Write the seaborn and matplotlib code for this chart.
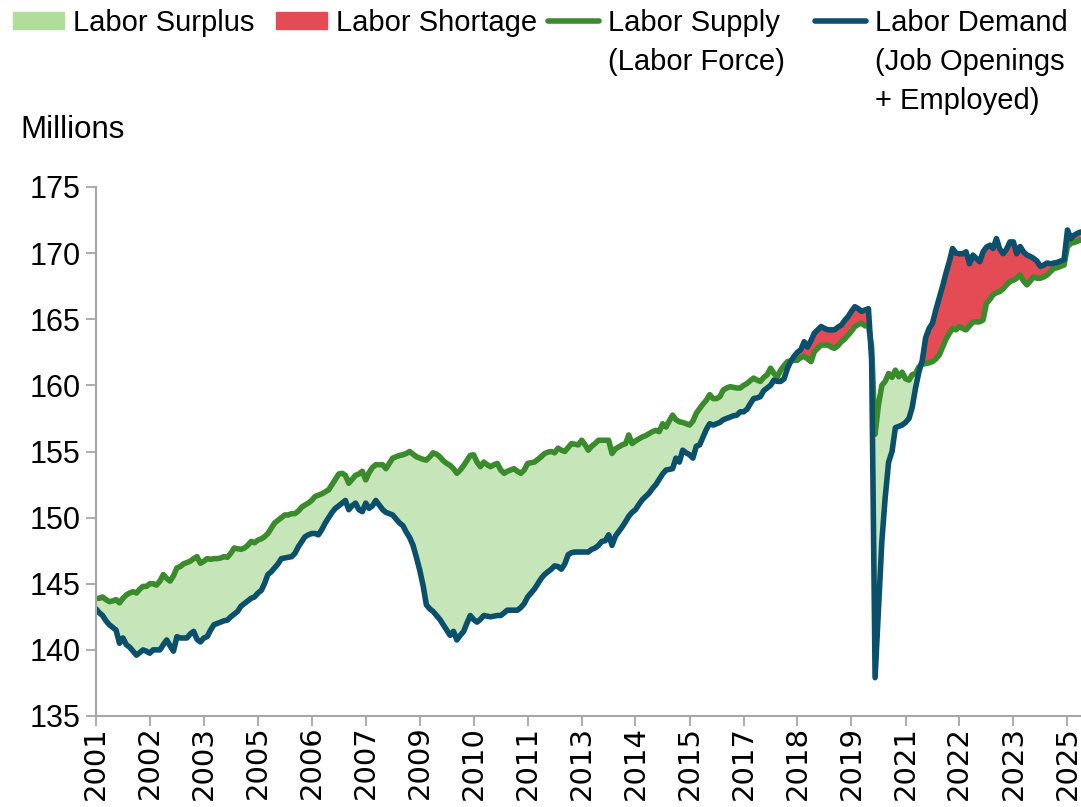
import numpy as np
import pandas as pd
import matplotlib
matplotlib.use("Agg")
import matplotlib.pyplot as plt
import seaborn as sb
from matplotlib.patches import Patch
from matplotlib.lines import Line2D

# labor supply (labor force), millions, monthly from Jan 2001
s2001 = [143.9, 143.9, 144.0, 143.8, 143.65, 143.7, 143.8, 143.55, 143.9, 144.15, 144.3, 144.4]
s2002 = [144.3, 144.6, 144.8, 144.8, 145.0, 145.0, 144.9, 145.2, 145.7, 145.4, 145.2, 145.6]
s2003 = [146.2, 146.3, 146.5, 146.6, 146.7, 146.9, 147.05, 146.55, 146.7, 146.9, 146.85, 146.9]
s2004 = [146.9, 146.95, 147.05, 147.0, 147.3, 147.7, 147.65, 147.6, 147.7, 147.9, 148.2, 148.1]
s2005 = [148.3, 148.4, 148.55, 148.8, 149.2, 149.6, 149.8, 150.0, 150.2, 150.2, 150.3, 150.3]
s2006 = [150.5, 150.8, 150.95, 151.1, 151.3, 151.6, 151.7, 151.8, 151.95, 152.1, 152.5, 152.9]
s2007 = [153.3, 153.35, 153.2, 152.6, 152.9, 153.2, 153.3, 153.5, 152.85, 153.4, 153.8, 154.0]
s2008 = [154.0, 154.0, 153.7, 154.1, 154.5, 154.6, 154.7, 154.75, 154.85, 155.0, 154.8, 154.6]
s2009 = [154.5, 154.4, 154.35, 154.6, 154.9, 154.8, 154.6, 154.3, 154.1, 153.95, 153.7, 153.35]
s2010 = [153.6, 153.95, 154.3, 154.7, 154.75, 154.2, 153.85, 154.2, 154.0, 153.85, 154.0, 154.1]
s2011 = [153.6, 153.35, 153.5, 153.6, 153.7, 153.5, 153.35, 153.6, 154.1, 154.15, 154.2, 154.4]
s2012 = [154.6, 154.85, 154.95, 155.0, 154.9, 155.25, 155.1, 155.0, 155.3, 155.6, 155.55, 155.5]
s2013 = [155.85, 155.5, 155.1, 155.4, 155.6, 155.85, 155.85, 155.85, 155.85, 154.85, 155.2, 155.35]
s2014 = [155.5, 155.6, 156.25, 155.6, 155.8, 155.95, 156.1, 156.2, 156.35, 156.5, 156.6, 156.5]
s2015 = [157.1, 156.85, 157.3, 157.75, 157.4, 157.25, 157.2, 157.1, 157.0, 157.3, 157.9, 158.25]
s2016 = [158.6, 158.9, 159.3, 159.0, 159.0, 159.15, 159.65, 159.8, 159.9, 159.85, 159.8, 159.8]
s2017 = [160.0, 160.15, 160.35, 160.55, 160.4, 160.3, 160.6, 160.8, 161.3, 160.9, 160.65, 161.15]
s2018 = [161.5, 161.8, 161.85, 161.9, 161.9, 162.1, 162.2, 162.0, 161.8, 162.55, 162.8, 163.05]
s2019 = [163.05, 163.05, 162.9, 162.8, 163.0, 163.3, 163.5, 163.8, 164.1, 164.45, 164.6, 164.7]
s2020 = [164.5, 164.55, 162.9, 156.3, 158.5, 160.0, 160.3, 160.9, 160.6, 161.15, 160.65, 161.0]
s2021 = [160.5, 160.4, 160.8, 160.9, 161.4, 161.6, 161.65, 161.7, 161.8, 162.0, 162.3, 162.9]
s2022 = [163.5, 163.95, 164.3, 164.2, 164.45, 164.3, 164.2, 164.5, 164.8, 164.8, 164.8, 164.95]
s2023 = [166.2, 166.5, 166.85, 167.0, 167.1, 167.3, 167.6, 167.85, 167.95, 168.1, 168.35, 167.9]
s2024 = [167.6, 167.9, 168.2, 168.1, 168.1, 168.2, 168.35, 168.6, 168.85, 168.9, 169.0, 169.1]
s2025 = [170.5, 170.75, 170.8, 170.9, 171.0]

# labor demand (job openings + employed), millions
d2001 = [143.1, 142.8, 142.6, 142.2, 141.9, 141.7, 141.5, 140.5, 140.9, 140.4, 140.2, 139.9]
d2002 = [139.6, 139.8, 140.0, 139.9, 139.75, 140.0, 140.0, 140.0, 140.4, 140.75, 140.3, 139.9]
d2003 = [141.0, 140.9, 140.9, 140.9, 141.2, 141.4, 140.8, 140.6, 140.9, 141.0, 141.5, 141.9]
d2004 = [142.0, 142.1, 142.2, 142.25, 142.5, 142.7, 142.9, 143.3, 143.5, 143.7, 143.9, 144.0]
d2005 = [144.3, 144.5, 145.0, 145.7, 145.9, 146.2, 146.5, 146.9, 146.95, 147.0, 147.05, 147.3]
d2006 = [147.8, 148.2, 148.55, 148.7, 148.8, 148.8, 148.7, 149.1, 149.6, 150.0, 150.4, 150.7]
d2007 = [150.9, 151.1, 151.3, 150.6, 150.9, 151.1, 150.6, 150.45, 151.1, 150.7, 150.9, 151.3]
d2008 = [150.95, 150.6, 150.4, 150.3, 150.2, 149.9, 149.6, 149.4, 148.9, 148.5, 147.9, 147.0]
d2009 = [146.0, 144.8, 143.4, 143.1, 142.9, 142.6, 142.3, 141.9, 141.5, 141.1, 141.4, 140.75]
d2010 = [141.1, 141.4, 142.0, 142.6, 142.3, 142.1, 142.3, 142.6, 142.55, 142.5, 142.55, 142.6]
d2011 = [142.6, 142.8, 143.0, 143.0, 143.0, 143.0, 143.2, 143.5, 144.0, 144.3, 144.6, 145.0]
d2012 = [145.4, 145.7, 145.9, 146.1, 146.35, 146.3, 146.1, 146.5, 147.2, 147.35, 147.4, 147.4]
d2013 = [147.4, 147.4, 147.4, 147.6, 147.7, 147.9, 148.2, 148.25, 148.7, 147.9, 148.6, 148.95]
d2014 = [149.3, 149.7, 150.1, 150.4, 150.6, 151.0, 151.35, 151.6, 151.85, 152.2, 152.5, 152.9]
d2015 = [153.3, 153.6, 153.65, 153.7, 154.5, 154.2, 155.1, 154.9, 154.75, 154.5, 155.4, 155.5]
d2016 = [156.1, 156.7, 157.1, 157.0, 157.1, 157.2, 157.4, 157.5, 157.6, 157.7, 157.75, 158.0]
d2017 = [158.0, 158.2, 158.6, 159.0, 159.05, 159.15, 159.6, 159.8, 160.0, 160.4, 160.3, 160.3]
d2018 = [160.5, 161.3, 161.8, 162.2, 162.5, 162.7, 163.3, 162.9, 163.4, 163.95, 164.2, 164.45]
d2019 = [164.3, 164.2, 164.2, 164.2, 164.4, 164.55, 164.9, 165.2, 165.6, 165.95, 165.8, 165.6]
d2020 = [165.7, 165.8, 161.9, 137.9, 143.0, 148.2, 151.5, 154.2, 155.0, 156.8, 156.9, 157.0]
d2021 = [157.2, 157.5, 158.3, 159.8, 161.0, 161.9, 163.6, 164.3, 164.7, 165.7, 166.6, 167.5]
d2022 = [168.5, 169.4, 170.35, 170.0, 169.95, 169.95, 170.1, 169.2, 169.85, 169.6, 169.35, 170.1]
d2023 = [170.45, 170.6, 170.35, 171.1, 170.3, 169.95, 170.3, 170.85, 170.85, 169.95, 170.5, 170.1]
d2024 = [169.85, 169.75, 169.6, 169.4, 169.0, 169.1, 169.25, 169.2, 169.25, 169.3, 169.4, 169.5]
d2025 = [171.75, 171.1, 171.35, 171.5, 171.6]

supply = np.concatenate([s2001, s2002, s2003, s2004, s2005, s2006, s2007, s2008, s2009,
                         s2010, s2011, s2012, s2013, s2014, s2015, s2016, s2017, s2018,
                         s2019, s2020, s2021, s2022, s2023, s2024, s2025])
demand = np.concatenate([d2001, d2002, d2003, d2004, d2005, d2006, d2007, d2008, d2009,
                         d2010, d2011, d2012, d2013, d2014, d2015, d2016, d2017, d2018,
                         d2019, d2020, d2021, d2022, d2023, d2024, d2025])
dates = pd.date_range("2001-01-01", periods=len(supply), freq="MS")

# ticks every 16 months, labelled by year
tick_dates = pd.date_range("2001-01-01", periods=19, freq="16MS")

legend_labels = ["Labor Surplus", "Labor Shortage", "Labor Supply\n(Labor Force)",
                 "Labor Demand\n(Job Openings\n+ Employed)"]

c_supply = "#3a8b2b"
c_demand = "#0a4f6b"
c_surplus = "#c6e6b9"
c_short = "#e54b54"

sb.set_style("ticks")
plt.rcParams["font.family"] = ["Liberation Sans", "DejaVu Sans"]
plt.rcParams["text.color"] = "black"

W, H = 1081, 807
fig = plt.figure(figsize=(W / 100, H / 100), dpi=100)
ax = fig.add_axes([96 / W, 91 / H, 1 - 96 / W, 529 / H])

ax.fill_between(dates, supply, demand, where=supply >= demand, interpolate=True,
                color=c_surplus, lw=0)
ax.fill_between(dates, supply, demand, where=demand >= supply, interpolate=True,
                color=c_short, lw=0)

df = pd.DataFrame({
    "date": np.concatenate([dates, dates]),
    "value": np.concatenate([supply, demand]),
    "series": ["supply"] * len(dates) + ["demand"] * len(dates),
})
sb.lineplot(data=df, x="date", y="value", hue="series",
            palette={"supply": c_supply, "demand": c_demand},
            linewidth=4, legend=False, ax=ax)

ax.set_xlim(pd.Timestamp("2001-01-01"), pd.Timestamp("2025-05-03"))
ax.set_ylim(135, 175)
ax.set_yticks(np.arange(135, 176, 5))
ax.set_xticks(tick_dates)
ax.set_xticklabels([str(d.year) for d in tick_dates], rotation=90)
ax.set_xlabel("")
ax.set_ylabel("")

for s in ["top", "right"]:
    ax.spines[s].set_visible(False)
for s in ["left", "bottom"]:
    ax.spines[s].set_color("#a6a6a6")
    ax.spines[s].set_linewidth(1.5)
ax.tick_params(axis="both", direction="out", length=7, width=1.3, color="#a6a6a6",
               labelcolor="black")
ax.tick_params(axis="y", labelsize=22, pad=4)
ax.tick_params(axis="x", labelsize=21, pad=0)
for lbl in ax.get_xticklabels():
    lbl.set_fontfamily("DejaVu Sans")

fig.text(20 / W, 1 - 130 / H, "Millions", fontsize=22.5, va="center", ha="left")

# legend: one entry per column, first line beside the key, rest below
handles = [Patch(color="#b1dd9a"), Patch(color=c_short),
           Line2D([], [], color=c_supply, lw=4), Line2D([], [], color=c_demand, lw=4)]
key_x = [13, 276, 548, 815]
legs = []
for h, lab, x in zip(handles, legend_labels, key_x):
    leg = fig.legend([h], [lab.split("\n")[0]], loc="upper left",
                     bbox_to_anchor=(x / W, 1 - 9 / H), frameon=False, fontsize=21,
                     handlelength=1.75, handleheight=0.55, handletextpad=0.32,
                     borderpad=0, borderaxespad=0)
    legs.append(leg)

fig.canvas.draw()
for leg, lab in zip(legs, legend_labels):
    extra = lab.split("\n")[1:]
    if not extra:
        continue
    bb = leg.get_texts()[0].get_window_extent()
    yc = (bb.y0 + bb.y1) / 2
    for k, line in enumerate(extra, start=1):
        fig.text(bb.x0 / W, (yc - 39 * k) / H, line, fontsize=21, va="center", ha="left")

fig.savefig("out.png", dpi=100)
